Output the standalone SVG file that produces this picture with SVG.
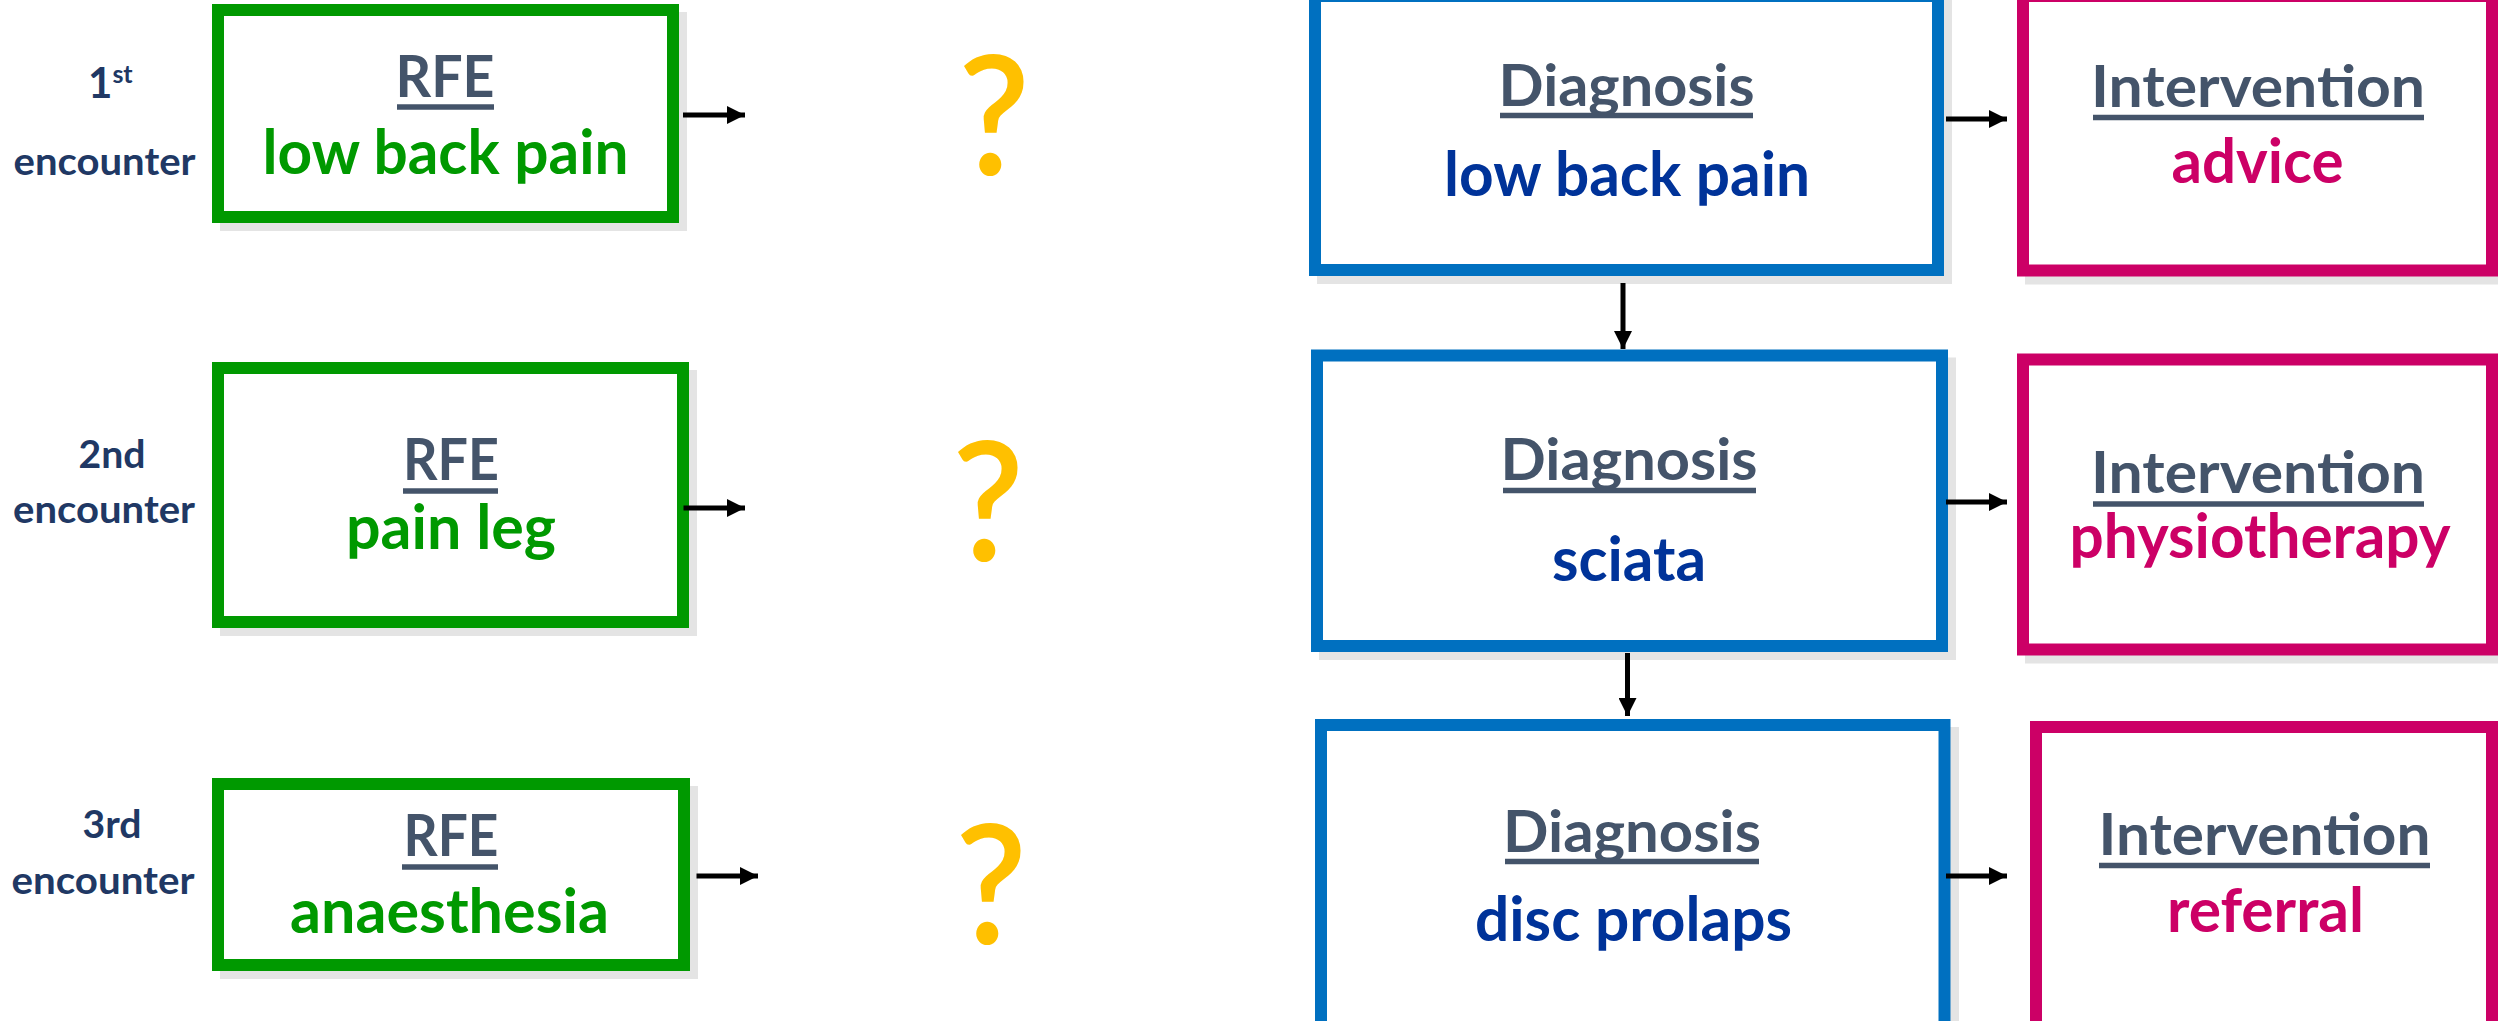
<svg xmlns="http://www.w3.org/2000/svg" width="2498" height="1021" viewBox="0 0 2498 1021">
  <defs>
    <style>
      text { font-family: Lato, "Open Sans", "Liberation Sans", sans-serif; font-weight: bold; text-anchor: middle; }
      .lbl { font-size: 39px; fill: #203864; }
      .head { font-size: 58px; fill: #44546A; }
      .ul { stroke: #44546A; stroke-width: 5.5; }
      .rfe-txt { font-size: 61px; fill: #009900; }
      .dx-txt { font-size: 61px; fill: #003399; }
      .iv-txt { font-size: 61px; fill: #CC0066; }
      .shadow { fill: #E4E4E4; }
      .rfe { fill: #FFFFFF; stroke: #009900; stroke-width: 12; }
      .dx { fill: #FFFFFF; stroke: #0070C0; stroke-width: 12; }
      .iv { fill: #FFFFFF; stroke: #CC0066; stroke-width: 12; }
      .q { font-family: Lato, "Liberation Sans", sans-serif; font-weight: 600; font-size: 166px; fill: #FFC000; }
      .conn { stroke: #000000; stroke-width: 5; fill: none; marker-end: url(#arrow); }
    </style>
    <marker id="arrow" markerUnits="userSpaceOnUse" markerWidth="20" markerHeight="18" refX="18" refY="9" orient="auto">
      <path d="M0,0 L18,9 L0,18 z" fill="#000000"/>
    </marker>
  </defs>

  <rect width="2498" height="1021" fill="#FFFFFF"/>

  <!-- encounter labels -->
  <g id="label-1">
    <text class="lbl" x="88" y="98" style="text-anchor:start"><tspan font-size="42">1</tspan><tspan font-size="25" dy="-15">st</tspan></text>
    <text class="lbl" x="104.5" y="175" textLength="182" lengthAdjust="spacingAndGlyphs">encounter</text>
  </g>
  <g id="label-2">
    <text class="lbl" x="112" y="468" textLength="67" lengthAdjust="spacingAndGlyphs">2nd</text>
    <text class="lbl" x="104" y="523" textLength="182" lengthAdjust="spacingAndGlyphs">encounter</text>
  </g>
  <g id="label-3">
    <text class="lbl" x="112" y="838" textLength="59" lengthAdjust="spacingAndGlyphs">3rd</text>
    <text class="lbl" x="103" y="894" textLength="183" lengthAdjust="spacingAndGlyphs">encounter</text>
  </g>

  <!-- reason for encounter boxes -->
  <g id="rfe-1">
    <rect class="shadow" x="220" y="12" width="467" height="219"/>
    <rect class="rfe" x="218" y="10" width="455" height="207"/>
    <text class="head" x="445" y="97" textLength="99" lengthAdjust="spacingAndGlyphs">RFE</text>
    <line class="ul" x1="397" y1="107" x2="494" y2="107"/>
    <text class="rfe-txt" x="445.5" y="174" textLength="366" lengthAdjust="spacingAndGlyphs">low back pain</text>
  </g>
  <g id="rfe-2">
    <rect class="shadow" x="220" y="370" width="477" height="266"/>
    <rect class="rfe" x="218" y="368" width="465" height="254"/>
    <text class="head" x="451" y="480" textLength="96" lengthAdjust="spacingAndGlyphs">RFE</text>
    <line class="ul" x1="403" y1="491" x2="498" y2="491"/>
    <text class="rfe-txt" x="451" y="549" textLength="210" lengthAdjust="spacingAndGlyphs">pain leg</text>
  </g>
  <g id="rfe-3">
    <rect class="shadow" x="220" y="786" width="478" height="193"/>
    <rect class="rfe" x="218" y="784" width="466" height="181"/>
    <text class="head" x="451" y="856" textLength="95" lengthAdjust="spacingAndGlyphs">RFE</text>
    <line class="ul" x1="402" y1="867" x2="498" y2="867"/>
    <text class="rfe-txt" x="449.5" y="933" textLength="319" lengthAdjust="spacingAndGlyphs">anaesthesia</text>
  </g>

  <!-- unknown steps -->
  <g id="unknown-1"><text class="q" x="994" y="175" textLength="72" lengthAdjust="spacingAndGlyphs">?</text></g>
  <g id="unknown-2"><text class="q" x="988" y="561" textLength="72" lengthAdjust="spacingAndGlyphs">?</text></g>
  <g id="unknown-3"><text class="q" x="991" y="944" textLength="72" lengthAdjust="spacingAndGlyphs">?</text></g>

  <!-- diagnosis boxes -->
  <g id="diagnosis-1">
    <rect class="shadow" x="1317" y="0" width="635" height="284"/>
    <rect class="dx" x="1315" y="-4" width="623" height="274"/>
    <text class="head" x="1626.5" y="106" textLength="256" lengthAdjust="spacingAndGlyphs">Diagnosis</text>
    <line class="ul" x1="1500" y1="115.5" x2="1753" y2="115.5"/>
    <text class="dx-txt" x="1627" y="196" textLength="366" lengthAdjust="spacingAndGlyphs">low back pain</text>
  </g>
  <g id="diagnosis-2">
    <rect class="shadow" x="1319" y="357.5" width="637" height="302.5"/>
    <rect class="dx" x="1317" y="355.5" width="625" height="290.5"/>
    <text class="head" x="1629" y="480" textLength="257" lengthAdjust="spacingAndGlyphs">Diagnosis</text>
    <line class="ul" x1="1503" y1="490.5" x2="1756" y2="490.5"/>
    <text class="dx-txt" x="1629" y="581" textLength="154" lengthAdjust="spacingAndGlyphs">sciata</text>
  </g>
  <g id="diagnosis-3">
    <rect class="shadow" x="1323" y="727" width="636" height="310"/>
    <rect class="dx" x="1321" y="725" width="623.5" height="302"/>
    <text class="head" x="1632" y="852" textLength="258" lengthAdjust="spacingAndGlyphs">Diagnosis</text>
    <line class="ul" x1="1505" y1="861.5" x2="1759" y2="861.5"/>
    <text class="dx-txt" x="1633.5" y="941" textLength="317" lengthAdjust="spacingAndGlyphs">disc prolaps</text>
  </g>

  <!-- intervention boxes -->
  <g id="intervention-1">
    <rect class="shadow" x="2025" y="0" width="480" height="284.5"/>
    <rect class="iv" x="2023" y="-4" width="469" height="274.5"/>
    <text class="head" x="2258" y="107" textLength="334" lengthAdjust="spacingAndGlyphs">Intervention</text>
    <line class="ul" x1="2093" y1="117.5" x2="2424" y2="117.5"/>
    <text class="iv-txt" x="2257.5" y="183" textLength="172" lengthAdjust="spacingAndGlyphs">advice</text>
  </g>
  <g id="intervention-2">
    <rect class="shadow" x="2025" y="361.5" width="480" height="302"/>
    <rect class="iv" x="2023" y="359.5" width="469" height="290"/>
    <text class="head" x="2258" y="493" textLength="334" lengthAdjust="spacingAndGlyphs">Intervention</text>
    <line class="ul" x1="2093" y1="504" x2="2424" y2="504"/>
    <text class="iv-txt" x="2260" y="558" textLength="381" lengthAdjust="spacingAndGlyphs">physiotherapy</text>
  </g>
  <g id="intervention-3">
    <rect class="shadow" x="2038" y="729" width="470" height="310"/>
    <rect class="iv" x="2036" y="727" width="456" height="302"/>
    <text class="head" x="2264.5" y="855" textLength="332" lengthAdjust="spacingAndGlyphs">Intervention</text>
    <line class="ul" x1="2099" y1="865.5" x2="2430" y2="865.5"/>
    <text class="iv-txt" x="2265.5" y="932" textLength="197" lengthAdjust="spacingAndGlyphs">referral</text>
  </g>

  <!-- connectors -->
  <g id="connectors">
    <line class="conn" x1="683" y1="115" x2="745" y2="115"/>
    <line class="conn" x1="683.5" y1="508" x2="745" y2="508"/>
    <line class="conn" x1="696.5" y1="876" x2="758" y2="876"/>
    <line class="conn" x1="1946" y1="119" x2="2007" y2="119"/>
    <line class="conn" x1="1946" y1="502" x2="2007" y2="502"/>
    <line class="conn" x1="1946" y1="876" x2="2007" y2="876"/>
    <line class="conn" x1="1623" y1="283" x2="1623" y2="349"/>
    <line class="conn" x1="1627.5" y1="653" x2="1627.5" y2="716"/>
  </g>
</svg>
